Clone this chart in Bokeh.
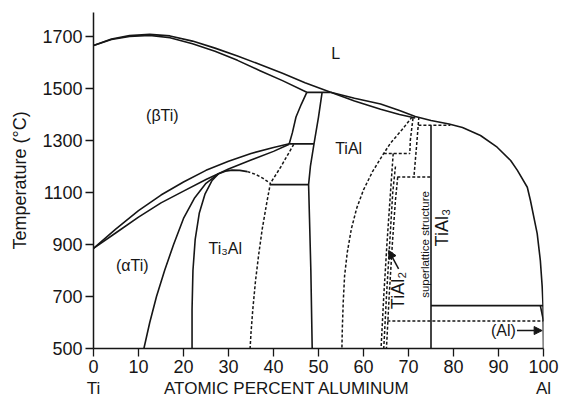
import math
from bokeh.plotting import figure
from bokeh.models import Range1d, LinearAxis, FixedTicker, Arrow, NormalHead
from bokeh.core.properties import value
from bokeh.embed import file_html
from bokeh.resources import INLINE

FONT = "Liberation Sans"
INK = "#161616"

# ---------------- axes / ticks ----------------
x_ticks = [0, 10, 20, 30, 40, 50, 60, 70, 80, 90, 100]
y_ticks = [500, 700, 900, 1100, 1300, 1500, 1700]
bottom_ticks = [0, 43, 100]
bottom_labels = ["Ti", "ATOMIC PERCENT ALUMINUM", "Al"]

# ---------------- solid boundaries (at.% Al, °C) ----------------
liq_left_x = [0, 4, 8, 12.5, 17, 22, 27, 32, 37, 42, 47, 52.7]
liq_left_t = [1665, 1690, 1703, 1708, 1702, 1682, 1655, 1625, 1592, 1558, 1522, 1485]
sol_beta_x = [0, 4, 8, 12.5, 17, 22, 27, 32, 37, 42, 47.4]
sol_beta_t = [1665, 1688, 1700, 1704, 1695, 1672, 1643, 1608, 1568, 1530, 1485]

liq_right_x = [52.7, 58, 63.8, 68, 71.5, 75, 79, 82, 86, 89.7, 92.7, 94.2, 96.4, 97.1, 98.6, 99.3, 99.7, 99.9, 100]
liq_right_t = [1485, 1462, 1440, 1415, 1392, 1377, 1363, 1350, 1319, 1274, 1223, 1185, 1120, 1069, 942, 838, 740, 665, 500]
sol_tial_x = [52.7, 58, 63.8, 68, 71.5]
sol_tial_t = [1485, 1452, 1420, 1400, 1386]

beta_upper_x = [0, 5, 10, 15, 20, 25, 30, 35, 40, 43.5]
beta_upper_t = [885, 960, 1030, 1090, 1140, 1185, 1220, 1250, 1273, 1287]
beta_lower_x = [0, 5, 10, 15, 20, 25, 30, 35, 40, 43.5]
beta_lower_t = [885, 945, 1005, 1060, 1105, 1150, 1190, 1225, 1258, 1285]

alpha_right_x = [47.4, 46.2, 45.0, 44.2, 43.5]
alpha_right_t = [1485, 1440, 1390, 1330, 1287]

tial_left_x = [50.8, 50.0, 49.0, 48.2, 47.8, 48.0, 48.3, 48.6]
tial_left_t = [1485, 1390, 1287, 1200, 1130, 1000, 800, 500]

a2_left_x = [11.2, 12.5, 14.0, 15.8, 17.8, 20.0, 22.5, 25.0, 27.8]
a2_left_t = [500, 600, 700, 800, 900, 1000, 1080, 1135, 1172]
a2_inner_x = [21.9, 21.9, 22.1, 22.6, 23.5, 24.8, 26.3, 27.8, 29.3, 30.8, 32.5, 34.2]
a2_inner_t = [500, 650, 800, 920, 1020, 1095, 1145, 1172, 1182, 1186, 1185, 1180]

tial3_x = [75, 75]
tial3_t = [500, 1358]
al_solvus_x = [99.3, 100]
al_solvus_t = [665, 606]

# horizontal invariant lines: (x_start, x_end, T)
solid_iso_x0 = [47.4, 43.5, 39.3, 75.0]
solid_iso_x1 = [52.7, 49.0, 47.8, 99.9]
solid_iso_t = [1485, 1287, 1130, 665]

# ---------------- dashed boundaries ----------------
a2_right_x = [34.2, 36.0, 37.6, 39.3, 38.5, 37.5, 36.7, 36.0, 35.4, 35.0, 34.8]
a2_right_t = [1180, 1170, 1155, 1135, 1060, 960, 860, 760, 650, 560, 500]
alpha_gamma_x = [44.5, 43.0, 41.5, 39.3]
alpha_gamma_t = [1285, 1240, 1195, 1135]
tial_right_x = [70.8, 68.5, 66.0, 64.5, 62.0, 60.0, 58.5, 57.3, 56.4, 55.8, 55.5, 55.3, 55.2]
tial_right_t = [1390, 1340, 1290, 1250, 1180, 1110, 1040, 960, 870, 780, 680, 580, 500]
h1_x = [71.0, 70.4, 70.3]
h1_t = [1386, 1300, 1250]
h2_x = [72.3, 71.8, 71.2]
h2_t = [1390, 1280, 1159]
tial2_a_x = [66.6, 66.0, 65.2, 64.5, 63.9]
tial2_a_t = [1250, 1100, 900, 700, 500]
tial2_b_x = [67.1, 66.5, 65.8, 65.1, 64.5]
tial2_b_t = [1200, 1100, 900, 700, 500]
tial2_c_x = [67.6, 67.1, 66.4, 65.7, 65.1]
tial2_c_t = [1159, 1070, 900, 700, 500]

dash_iso_x0 = [64.5, 67.5, 72.2, 65.3]
dash_iso_x1 = [70.3, 75.0, 79.3, 100.0]
dash_iso_t = [1250, 1159, 1358, 606]

# ---------------- phase labels ----------------
lab_text = ["L", "(\u03b2Ti)", "TiAl", "Ti\u2083Al", "(\u03b1Ti)"]
lab_x = [53.8, 15.3, 56.7, 29.3, 8.6]
lab_t = [1635, 1396, 1268, 883, 819]

rot_text = ["TiAl\u2082", "TiAl\u2083"]
rot_x = [67.6, 77.4]
rot_t = [723, 965]

super_text = ["superlattice structure"]
super_x = [73.6]
super_t = [900]

al_text = ["(Al)"]
al_x = [91.1]
al_t = [569]

# arrows (tail -> head)
arr_x0 = [67.8, 94.1]
arr_t0 = [806, 569]
arr_x1 = [65.6, 99.7]
arr_t1 = [877, 569]

# ---------------- figure ----------------
p = figure(width=561, height=400, output_backend="svg", toolbar_location=None,
           x_range=Range1d(0, 100), y_range=Range1d(500, 1792),
           min_border_left=93, min_border_right=18, min_border_top=12, min_border_bottom=52)
p.outline_line_color = None
p.grid.visible = False
p.background_fill_color = "white"
p.border_fill_color = "white"

for ax in (p.xaxis[0], p.yaxis[0]):
    ax.axis_line_width = 1.5
    ax.axis_line_color = INK
    ax.major_tick_line_color = INK
    ax.major_tick_line_width = 1.3
    ax.major_tick_out = 8
    ax.major_tick_in = 0
    ax.minor_tick_line_color = None
    ax.major_label_text_font = FONT
    ax.major_label_text_font_size = "18px"
    ax.major_label_text_color = INK

p.xaxis[0].ticker = FixedTicker(ticks=x_ticks)
p.xaxis[0].major_label_standoff = 3
p.yaxis[0].ticker = FixedTicker(ticks=y_ticks)
p.yaxis[0].major_label_standoff = 3
p.yaxis[0].axis_label = "Temperature (\u00b0C)"
p.yaxis[0].axis_label_text_font = FONT
p.yaxis[0].axis_label_text_font_size = "18px"
p.yaxis[0].axis_label_text_font_style = "normal"
p.yaxis[0].axis_label_text_color = INK
p.yaxis[0].axis_label_standoff = 9

ax2 = LinearAxis(ticker=FixedTicker(ticks=bottom_ticks),
                 major_label_overrides={t: s for t, s in zip(bottom_ticks, bottom_labels)},
                 axis_line_color=None, major_tick_line_color=None, minor_tick_line_color=None,
                 major_tick_out=0, major_tick_in=0,
                 major_label_standoff=3, major_label_text_font=FONT,
                 major_label_text_font_size="17px", major_label_text_color=INK)
p.add_layout(ax2, "below")

LW = 1.6
solid_curves = [
    (liq_left_x, liq_left_t), (sol_beta_x, sol_beta_t),
    (liq_right_x, liq_right_t), (sol_tial_x, sol_tial_t),
    (beta_upper_x, beta_upper_t), (beta_lower_x, beta_lower_t),
    (alpha_right_x, alpha_right_t), (tial_left_x, tial_left_t),
    (a2_left_x, a2_left_t), (a2_inner_x, a2_inner_t),
    (tial3_x, tial3_t), (al_solvus_x, al_solvus_t),
]
for xs, ts in solid_curves:
    p.line(xs, ts, line_color=INK, line_width=LW, line_join="round")
p.segment(x0=solid_iso_x0, y0=solid_iso_t, x1=solid_iso_x1, y1=solid_iso_t,
          line_color=INK, line_width=LW)

dashed_curves = [
    (a2_right_x, a2_right_t), (alpha_gamma_x, alpha_gamma_t),
    (tial_right_x, tial_right_t), (h1_x, h1_t), (h2_x, h2_t),
    (tial2_a_x, tial2_a_t), (tial2_b_x, tial2_b_t), (tial2_c_x, tial2_c_t),
]
for xs, ts in dashed_curves:
    p.line(xs, ts, line_color=INK, line_width=1.5, line_dash="3 2")
p.segment(x0=dash_iso_x0, y0=dash_iso_t, x1=dash_iso_x1, y1=dash_iso_t,
          line_color=INK, line_width=1.5, line_dash="3 2")

p.text(x=lab_x, y=lab_t, text=lab_text, text_font=value(FONT), text_font_size="16px",
       text_color=INK, text_align="center", text_baseline="middle")
p.text(x=rot_x, y=rot_t, text=rot_text, text_font=value(FONT), text_font_size="18px",
       text_color=INK, text_align="center", text_baseline="middle", angle=math.pi / 2)
p.text(x=super_x, y=super_t, text=super_text, text_font=value(FONT), text_font_size="11.5px",
       text_color=INK, text_align="center", text_baseline="middle", angle=math.pi / 2)
p.text(x=al_x, y=al_t, text=al_text, text_font=value(FONT), text_font_size="16px",
       text_color=INK, text_align="center", text_baseline="middle")

for xa, ta, xb, tb in zip(arr_x0, arr_t0, arr_x1, arr_t1):
    p.add_layout(Arrow(x_start=xa, y_start=ta, x_end=xb, y_end=tb,
                       line_color=INK, line_width=1.5,
                       end=NormalHead(size=8, fill_color=INK, line_color=INK)))

open("out.html", "w").write(file_html(p, INLINE))
